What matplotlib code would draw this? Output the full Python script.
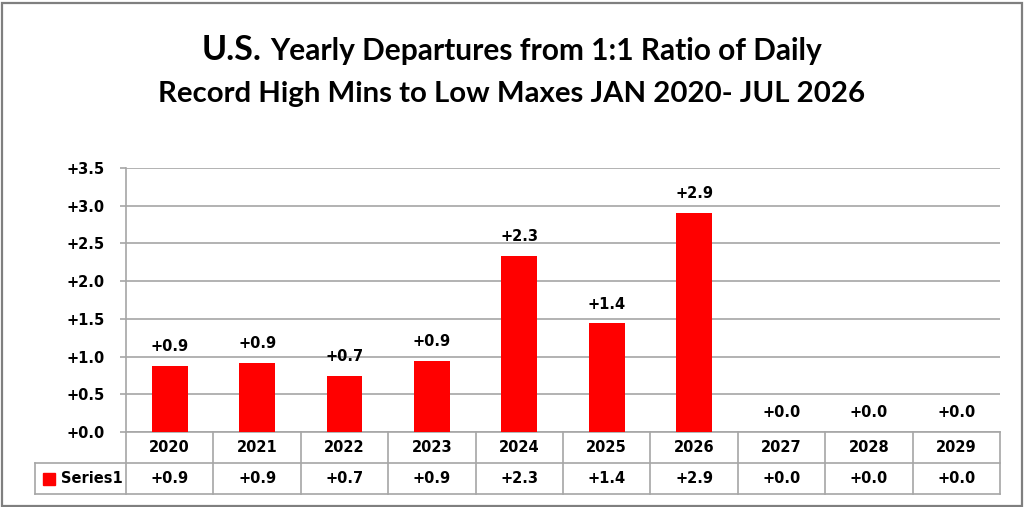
import matplotlib
matplotlib.use("Agg")
import matplotlib.pyplot as plt
import matplotlib.transforms as mtransforms
from matplotlib.patches import Rectangle
from matplotlib.ticker import FuncFormatter, MultipleLocator

# data
years = ['2020', '2021', '2022', '2023', '2024', '2025', '2026', '2027', '2028', '2029']
departures = [0.88, 0.92, 0.74, 0.94, 2.33, 1.44, 2.91, 0.0, 0.0, 0.0]
series_name = 'Series1'
title_us = 'U.S.'
title_rest = 'Yearly Departures from 1:1 Ratio of Daily'
title_line2 = 'Record High Mins to Low Maxes JAN 2020- JUL 2026'

W, H = 1024, 507
grey = '#a6a6a6'
red = '#ff0000'
lab_size = 10.5
title_font = 'Lato'

plt.rcParams['font.family'] = 'DejaVu Sans'
plt.rcParams['font.weight'] = 'bold'

fig = plt.figure(figsize=(W / 100, H / 100), dpi=100)
ax = fig.add_axes([126 / W, 75 / H, 874 / W, 264 / H])

x = list(range(len(years)))
ax.bar(x, departures, width=0.41, color=red, zorder=3)
ax.set_xlim(-0.5, len(years) - 0.5)
ax.set_ylim(0, 3.5)
ax.yaxis.set_major_locator(MultipleLocator(0.5))
ax.yaxis.set_major_formatter(FuncFormatter(lambda v, p: f'{v:+.1f}'))
ax.grid(axis='y', color=grey, lw=1.2, zorder=0)
ax.set_axisbelow(True)
ax.set_xticks([])
for s in ['top', 'right', 'bottom']:
    ax.spines[s].set_visible(False)
ax.spines['left'].set_color(grey)
ax.spines['left'].set_linewidth(1.2)
ax.tick_params(axis='y', length=4.3, width=1.2, color=grey, pad=11, labelsize=lab_size)

# value labels over the bars
for xi, v in zip(x, departures):
    ax.annotate(f'{v:+.1f}', (xi, v), xytext=(0, 8.5), textcoords='offset points',
                ha='center', va='bottom', fontsize=lab_size, fontweight='bold')

# data table under the axis
trans = mtransforms.blended_transform_factory(ax.transData, ax.transAxes)
rh = 31 / 264
xl = -0.5 - 91 / 87.4
xr = len(years) - 0.5

def tline(xs, ys):
    ax.plot(xs, ys, transform=trans, clip_on=False, color=grey, lw=1.2, solid_capstyle='projecting')

tline([-0.5, xr], [0, 0])
tline([xl, xr], [-rh, -rh])
tline([xl, xr], [-2 * rh, -2 * rh])
for b in range(len(years) + 1):
    tline([b - 0.5, b - 0.5], [0, -2 * rh])
tline([xl, xl], [-rh, -2 * rh])

for xi, yr, v in zip(x, years, departures):
    ax.text(xi, -rh / 2, yr, transform=trans, ha='center', va='center',
            fontsize=lab_size, fontweight='bold')
    ax.text(xi, -1.5 * rh, f'{v:+.1f}', transform=trans, ha='center', va='center',
            fontsize=lab_size, fontweight='bold')

ax.plot([-0.5 - 77 / 87.4], [-1.5 * rh], marker='s', markersize=8, color=red,
        transform=trans, clip_on=False, linestyle='none')
ax.text(-0.5 - 65 / 87.4, -1.5 * rh, series_name, transform=trans, ha='left', va='center',
        fontsize=lab_size, fontweight='bold')

# title, first word bigger
r = fig.canvas.get_renderer()
ta = fig.text(0, 1 - 60 / H, title_us, fontsize=24.5, family=title_font, weight='bold', va='baseline')
tb = fig.text(0, 1 - 60 / H, title_rest, fontsize=21.5, family=title_font, weight='bold', va='baseline')
wa = ta.get_window_extent(r).width
wb = tb.get_window_extent(r).width
gap = 8
x0 = W / 2 - (wa + gap + wb) / 2
ta.set_x(x0 / W)
tb.set_x((x0 + wa + gap) / W)
fig.text(0.5, 1 - 102 / H, title_line2, fontsize=21.2, family=title_font, weight='bold',
         ha='center', va='baseline')

fig.patches.append(Rectangle((1.5 / W, 1.5 / H), 1 - 4 / W, 1 - 4 / H, transform=fig.transFigure,
                             fill=False, edgecolor='#7f7f7f', lw=1.6))

fig.savefig('out.png', dpi=100)
